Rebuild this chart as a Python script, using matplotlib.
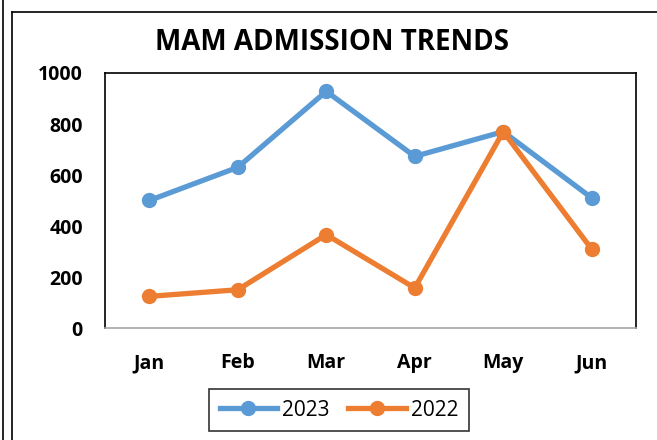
import matplotlib
matplotlib.use("Agg")
import matplotlib.pyplot as plt
from matplotlib.lines import Line2D

# データ
months = ["Jan", "Feb", "Mar", "Apr", "May", "Jun"]
admissions_2023 = [500, 630, 928, 673, 770, 510]
admissions_2022 = [124, 150, 366, 157, 770, 309]
yticks = [0, 200, 400, 600, 800, 1000]

blue = "#5B9BD5"
orange = "#ED7D31"

plt.rcParams["font.family"] = ["Open Sans", "DejaVu Sans"]

fig = plt.figure(figsize=(6.57, 4.4), dpi=100)

# 外枠の線
fig.add_artist(Line2D([3 / 657, 3 / 657], [0, 1], color="black", lw=1.2))
fig.add_artist(Line2D([12 / 657, 12 / 657], [0, 1 - 12 / 440], color="black", lw=1.2))
fig.add_artist(Line2D([12 / 657, 1], [1 - 12 / 440, 1 - 12 / 440], color="black", lw=1.2))

ax = fig.add_axes([105 / 657, 112 / 440, 531 / 657, 255 / 440])
x = [i + 0.5 for i in range(len(months))]
ax.plot(x, admissions_2023, color=blue, lw=3.8, marker="o", ms=10, label="2023")
ax.plot(x, admissions_2022, color=orange, lw=3.8, marker="o", ms=10, label="2022")

ax.set_xlim(0, len(months))
ax.set_ylim(0, 1000)
ax.set_xticks(x)
ax.set_xticklabels(months, fontsize=14, fontweight="bold")
ax.set_yticks(yticks)
ax.set_yticklabels([str(v) for v in yticks], fontsize=14, fontweight="bold")
ax.tick_params(length=0)
ax.tick_params(axis="x", pad=18)
ax.tick_params(axis="y", pad=16)
for s in ["top", "left", "right"]:
    ax.spines[s].set_color("black")
    ax.spines[s].set_linewidth(1.2)
ax.spines["bottom"].set_color("#A6A6A6")
ax.spines["bottom"].set_linewidth(1.2)

fig.text(332 / 657, 1 - 42 / 440, "MAM ADMISSION TRENDS", ha="center", va="center",
         fontsize=20, fontweight="bold")

leg = fig.legend(loc="center", bbox_to_anchor=(339 / 657, 1 - 410 / 440), ncol=2,
                 fontsize=15, frameon=True, fancybox=False, edgecolor="black",
                 handlelength=2.75, handletextpad=0.25, columnspacing=0.9,
                 borderpad=0.5, borderaxespad=0)
leg.get_frame().set_linewidth(1.2)

fig.savefig("out.png", dpi=100)
